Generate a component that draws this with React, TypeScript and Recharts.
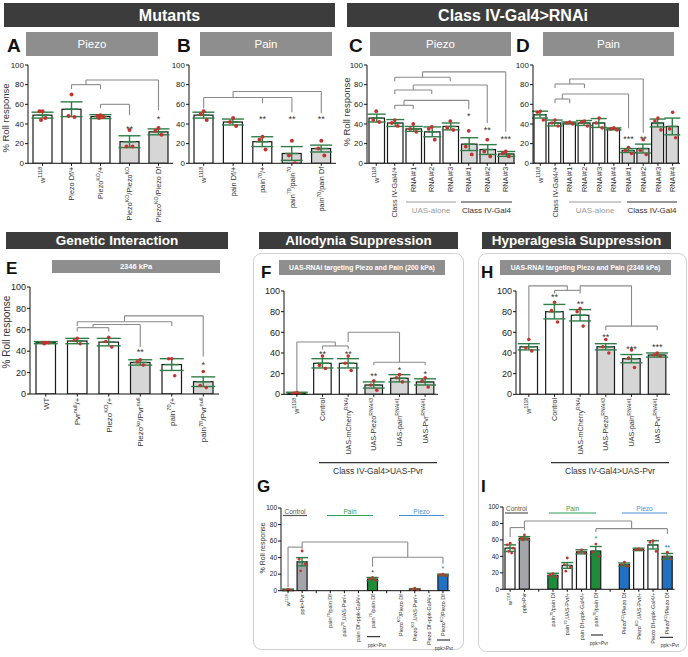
import React from 'react'
import { ComposedChart, Bar, Line, XAxis, YAxis, ErrorBar, ReferenceLine, ReferenceDot } from 'recharts'

const FONT = '"Liberation Sans", Arial, Helvetica, sans-serif'
const ERR = '#2f7d47'
const DOT = '#c23430'
const W = '#ffffff'
const L = '#d6d6d6'
const GRAYBAR = '#a4a4ab'
const GREEN = '#1f8b3b'
const BLUE = '#2170c2'
const BRK = '#8a8a8a'

// ---- A: Mutants / Piezo
const A_LABELS = ['w^{1118}', 'Piezo Df/+', 'Piezo^{KO}/+', 'Piezo^{KO}/Piezo^{KO}', 'Piezo^{KO}/Piezo Df']
const A_MEAN = [49, 55, 47.5, 22, 32]
const A_SEM = [3, 7.5, 2, 6, 3]
const A_POINTS = [[53, 53, 46, 44], [70, 48, 47], [49, 48, 47, 46], [34, 17, 17], [36, 33, 29]]

// ---- B: Mutants / Pain
const B_LABELS = ['w^{1118}', 'pain Df/+', 'pain^{70}/+', 'pain^{70}/pain^{70}', 'pain^{70}/pain Df']
const B_MEAN = [49, 42, 22, 10, 15]
const B_SEM = [3, 3, 5, 7, 3.5]
const B_POINTS = [[53, 50, 44], [46, 42, 38], [27, 24, 14], [23, 8, 0], [23, 15, 8]]

// ---- C: RNAi / Piezo
const C_LABELS = ['w^{1118}', 'Class IV-Gal4/+', 'RNAi#1', 'RNAi#2', 'RNAi#3', 'RNAi#1', 'RNAi#2', 'RNAi#3']
const C_MEAN = [46, 41, 35, 32, 37.5, 19.5, 14, 9.5]
const C_SEM = [4, 3.5, 2.5, 5, 3.5, 6.5, 5, 2.5]
const C_POINTS = [[53, 44, 42], [44, 41, 38], [40, 35, 32], [37, 35, 24], [43, 36, 34], [33, 17, 9], [24, 12, 7], [12, 10, 7]]

// ---- D: RNAi / Pain
const D_LABELS = ['w^{1118}', 'Class IV-Gal4/+', 'RNAi#1', 'RNAi#2', 'RNAi#3', 'RNAi#4', 'RNAi#1', 'RNAi#2', 'RNAi#3', 'RNAi#4']
const D_MEAN = [49.5, 41, 41, 41, 41, 35, 13, 15, 41, 37.5]
const D_SEM = [3.5, 3, 1, 2.5, 4.5, 1, 2, 4.5, 4, 8.5]
const D_POINTS = [[53, 52, 44], [44, 41, 38], [42, 41, 40], [43, 42, 38], [46, 41, 36], [36, 35, 34], [16, 13, 10], [24, 13, 9], [46, 43, 34], [52, 35, 26]]

// ---- E: Genetic interaction
const E_LABELS = ['WT', 'Pvr^{null}/+', 'Piezo^{KO}/+', 'Piezo^{ko}/Pvr^{null}', 'pain^{70}/+', 'pain^{70}/Pvr^{null}']
const E_MEAN = [48, 49.5, 48.5, 29.5, 27.5, 11.5]
const E_SEM = [1, 2.5, 3.5, 2.5, 5.5, 4.5]
const E_POINTS = [[48, 48, 48, 47], [52, 50, 47], [53, 49, 44], [32, 30, 27], [33, 33, 17], [21, 8, 6]]

// ---- F / H: RNAi suppression
const FH_LABELS = ['w^{1118}', 'Control', 'UAS-mCherry^{RNAi}', 'UAS-Piezo^{RNAi#3}', 'UAS-pain^{RNAi#1}', 'UAS-Pvr^{RNAi#1}']
const F_MEAN = [1, 30, 30, 9, 15.5, 12]
const F_SEM = [1, 4.5, 4.5, 3, 3.5, 3]
const F_POINTS = [[2, 1, 0], [37, 28, 25], [37, 30, 23], [13, 9, 4], [19, 16, 12], [16, 13, 7]]
const H_MEAN = [46, 80, 76.5, 46, 34.5, 38]
const H_SEM = [3, 7, 5.5, 3, 4, 2]
const H_POINTS = [[53, 45, 42], [89, 81, 70], [83, 80, 66], [53, 46, 40], [43, 35, 26], [40, 38, 37]]

// ---- G / I: Pvr overexpression
const GI_LABELS = ['w^{1118}', 'ppk>Pvr', '', 'pain^{70}/pain Df', 'pain^{70},UAS-Pvr/+', 'pain Df+ppk-Gal4/+', 'pain^{70}/pain Df', ' ', 'Piezo^{KO}/Piezo Df', 'Piezo^{KO},UAS-Pvr/+', 'Piezo Df+ppk-Gal4/+', 'Piezo^{KO}/Piezo Df']
const G_MEAN = [1, 35, null, 0, 0, 0, 14, null, 0, 1.5, 0, 19]
const G_SEM = [1, 5, null, 0, 0, 0, 2, null, 0, 1, 0, 1]
const G_POINTS = [[2, 0.5, 0], [48, 38, 32, 24], [], [], [], [], [16, 14, 13], [], [], [3, 1, 1], [], [20, 19, 18]]
const I_MEAN = [50, 62, null, 17, 29, 45.5, 46.5, null, 30, 48.5, 54, 40]
const I_SEM = [4, 2, null, 2.5, 3.5, 2.5, 5.5, null, 2, 1.5, 5, 3.5]
const I_POINTS = [[56, 54, 50, 46, 44], [66, 62, 61, 60], [], [19, 17, 15], [38, 30, 27, 22], [48, 45, 44], [55, 45, 40], [], [33, 30, 28], [49, 48, 48], [59, 57, 46], [45, 39, 37]]

const Y_TICKS = [0, 20, 40, 60, 80, 100]

type Bracket = { x: [number, number]; y: number; legs: [number, number][] }
type Star = { i: number; y: number; s: string; c?: string }

const A_BRACKETS: Bracket[] = [
  { x: [1, 2], y: 80, legs: [[1, 75.5], [2, 75.5], [1.5, 84.7]] },
  { x: [1.5, 4], y: 84.7, legs: [[4, 54]] },
  { x: [2, 3], y: 60, legs: [[2, 56], [3, 49]] },
]
const B_BRACKETS: Bracket[] = [
  { x: [0, 3], y: 67, legs: [[0, 56], [2, 61], [3, 52]] },
  { x: [1, 4], y: 73, legs: [[1, 67], [4, 51]] },
]
const C_BRACKETS: Bracket[] = [
  { x: [1, 2], y: 59, legs: [[1, 55], [2, 55], [1.5, 64]] },
  { x: [1.5, 5], y: 64, legs: [[5, 55]] },
  { x: [1, 3], y: 74.6, legs: [[1, 70.5], [3, 70.5], [2, 79.7]] },
  { x: [2, 6], y: 79.7, legs: [[6, 41]] },
  { x: [1, 4], y: 87.5, legs: [[1, 83.5], [4, 83.5], [2.5, 93]] },
  { x: [2.5, 7], y: 93, legs: [[7, 32]] },
]
const D_BRACKETS: Bracket[] = [
  { x: [1, 2], y: 65.4, legs: [[1, 61], [2, 61], [1.5, 70.5]] },
  { x: [1.5, 6], y: 70.5, legs: [[6, 35.6]] },
  { x: [1, 3], y: 80.7, legs: [[1, 76.5], [3, 76.5], [2, 85.8]] },
  { x: [2, 7], y: 85.8, legs: [[7, 31]] },
]
const E_BRACKETS: Bracket[] = [
  { x: [1, 2], y: 62, legs: [[1, 58.5], [2, 58.5], [1.5, 65]] },
  { x: [1.5, 3], y: 65, legs: [[3, 44]] },
  { x: [1, 4], y: 67.5, legs: [[1, 63.5], [4, 63.5], [2.5, 73]] },
  { x: [2.5, 5], y: 73, legs: [[5, 35]] },
]
const F_BRACKETS: Bracket[] = [
  { x: [1, 2], y: 46.8, legs: [[1, 43.5], [2, 43.5], [1.5, 50.6]] },
  { x: [0, 1.5], y: 50.6, legs: [[0, 4]] },
  { x: [3, 5], y: 31, legs: [[3, 28], [5, 28], [4, 60]] },
  { x: [2, 4], y: 60, legs: [[2, 50.6]] },
]
const H_BRACKETS: Bracket[] = [
  { x: [1, 2], y: 100.6, legs: [[1, 97.5], [2, 97.5], [1.5, 105]] },
  { x: [0, 1.5], y: 105, legs: [[0, 53]] },
  { x: [3, 5], y: 66, legs: [[3, 62], [5, 62], [4, 105]] },
  { x: [2, 4], y: 105, legs: [[2, 100.6]] },
]
const G_BRACKETS: Bracket[] = [
  { x: [0, 1], y: 52.7, legs: [[0, 4.5], [1, 50.5]] },
  { x: [1, 8.5], y: 58.8, legs: [[1, 52.7], [8.5, 40.5]] },
  { x: [6, 11], y: 40.5, legs: [[6, 29], [11, 32.5]] },
]
const I_BRACKETS: Bracket[] = [
  { x: [0, 1], y: 75, legs: [[0, 63.5], [1, 71.7]] },
  { x: [1, 8.5], y: 83, legs: [[1, 75], [8.5, 73.7]] },
  { x: [6, 11], y: 73.7, legs: [[6, 69.6], [11, 67.6]] },
]

const A_STARS: Star[] = [{ i: 3, y: 37, s: '**' }, { i: 4, y: 47, s: '*' }]
const B_STARS: Star[] = [{ i: 2, y: 47, s: '**' }, { i: 3, y: 47, s: '**' }, { i: 4, y: 47, s: '**' }]
const C_STARS: Star[] = [{ i: 5, y: 50, s: '*' }, { i: 6, y: 36, s: '**' }, { i: 7, y: 27, s: '***' }]
const D_STARS: Star[] = [{ i: 6, y: 27, s: '***' }, { i: 7, y: 27, s: '**' }]
const E_STARS: Star[] = [{ i: 3, y: 41, s: '**' }, { i: 5, y: 29, s: '*' }]
const F_STARS: Star[] = [{ i: 1, y: 41, s: '**' }, { i: 2, y: 41, s: '**' }, { i: 3, y: 20, s: '**' }, { i: 4, y: 25, s: '*' }, { i: 5, y: 22, s: '*' }]
const H_STARS: Star[] = [{ i: 1, y: 96, s: '**' }, { i: 2, y: 89, s: '**' }, { i: 3, y: 57, s: '**' }, { i: 4, y: 46, s: '***' }, { i: 5, y: 48, s: '***' }]
const G_STARS: Star[] = [{ i: 6, y: 24, s: '*' }, { i: 11, y: 28, s: '*', c: BLUE }]
const I_STARS: Star[] = [{ i: 6, y: 63, s: '*', c: GREEN }, { i: 11, y: 53, s: '**', c: BLUE }]

const GI_FILLS = [W, GRAYBAR, W, GREEN, W, W, GREEN, W, BLUE, W, W, BLUE]

function buildRows(labels: string[], mean: (number | null)[], sem: (number | null)[], pts: number[][]) {
  return labels.map((name, idx) => {
    const row: any = { name, idx, mean: mean[idx], err: sem[idx] }
    pts[idx].forEach((v, k) => { row['d' + k] = v })
    return row
  })
}

function richText(label: string, fs: number) {
  const parts = label.split(/\^\{([^}]*)\}/)
  const out: any[] = []
  let up = false
  parts.forEach((p, i) => {
    if (!p) return
    if (i % 2 === 1) {
      out.push(<tspan key={i} dy={-fs * 0.42} fontSize={fs * 0.72}>{p}</tspan>)
      up = true
    } else {
      out.push(<tspan key={i} dy={up ? fs * 0.42 : 0}>{p}</tspan>)
      up = false
    }
  })
  return out
}

const makeXTick = (fs: number) => (props: any) => {
  const { x, y, payload } = props
  const label = String(payload?.value ?? '')
  if (!label.trim()) return <g />
  return (
    <g transform={`translate(${x + fs * 0.36},${y}) rotate(-90)`}>
      <text textAnchor="end" fontSize={fs} fill="#333" fontFamily={FONT}>{richText(label, fs)}</text>
    </g>
  )
}

const makeBarShape = (fills: string[], cap: number) => (props: any) => {
  const { x, y, width, height, payload } = props
  if (!height || height <= 0.05) return <g />
  const cx = x + width / 2
  const fill = fills[payload?.idx ?? 0]
  return (
    <g>
      <rect x={x} y={y} width={width} height={height} fill={fill} stroke="#1a1a1a" strokeWidth={1.2} />
      <line x1={cx - cap / 2 - 1} x2={cx + cap / 2 + 1} y1={y} y2={y} stroke={ERR} strokeWidth={1.5} />
    </g>
  )
}

const JITTER = [0, -3, 3, -1.5, 1.5]
const makeDot = (off: number, r: number) => (props: any) => {
  const { cx, cy, value, index } = props
  if (value == null || cx == null || cy == null) return <g key={'n' + index} />
  return <circle key={'c' + index} cx={cx + off} cy={cy} r={r} fill={DOT} />
}

type Spec = {
  rows: any[]; fills: string[]; l: number; t: number; w: number; h: number; xh: number
  bar: number; cap: number; xfs: number; yfs: number; dotR: number; starFs: number
  brackets: Bracket[]; stars: Star[]
}

const YW = 30
const MT = 22
const MR = 4

function Panel({ s }: { s: Spec }) {
  const n = s.rows.length
  const maxPts = 5
  return (
    <div style={{ position: 'absolute', left: s.l - YW, top: s.t - MT }}>
      <ComposedChart width={YW + s.w + MR} height={MT + s.h + s.xh} data={s.rows}
        margin={{ top: MT, right: MR, bottom: 0, left: 0 }}>
        <XAxis dataKey="name" interval={0} height={s.xh} tick={makeXTick(s.xfs)} tickSize={2.5} tickMargin={1}
          axisLine={{ stroke: '#111' }} tickLine={{ stroke: '#111' }} />
        <XAxis xAxisId="num" type="number" dataKey="idx" domain={[-0.5, n - 0.5]} allowDataOverflow hide />
        <YAxis domain={[0, 100]} ticks={Y_TICKS} interval={0} width={YW} allowDataOverflow tickSize={3} tickMargin={1}
          tick={{ fontSize: s.yfs, fill: '#222', fontFamily: FONT }} axisLine={{ stroke: '#111' }} tickLine={{ stroke: '#111' }} />
        <Bar dataKey="mean" barSize={s.bar} isAnimationActive={false} shape={makeBarShape(s.fills, s.cap)}>
          <ErrorBar dataKey="err" width={s.cap} stroke={ERR} strokeWidth={1.4} />
        </Bar>
        {Array.from({ length: maxPts }, (_, k) => (
          <Line key={'d' + k} dataKey={'d' + k} stroke="none" isAnimationActive={false} activeDot={false}
            dot={makeDot(JITTER[k], s.dotR)} legendType="none" />
        ))}
        {s.brackets.flatMap((b, bi) => [
          <ReferenceLine key={`h${bi}`} xAxisId="num" ifOverflow="visible" stroke={BRK} strokeWidth={1.1}
            segment={[{ x: b.x[0], y: b.y }, { x: b.x[1], y: b.y }]} />,
          ...b.legs.map((lg, li) => (
            <ReferenceLine key={`v${bi}-${li}`} xAxisId="num" ifOverflow="visible" stroke={BRK} strokeWidth={1.1}
              segment={[{ x: lg[0], y: b.y }, { x: lg[0], y: lg[1] }]} />
          )),
        ])}
        {s.stars.map((st, si) => (
          <ReferenceDot key={`s${si}`} xAxisId="num" x={st.i} y={st.y} r={0} ifOverflow="visible"
            shape={(p: any) => (
              <text x={p.cx} y={p.cy + s.starFs * 0.55} textAnchor="middle" fontSize={s.starFs}
                fill={st.c ?? '#333'} fontFamily={FONT}>{st.s}</text>
            )} />
        ))}
      </ComposedChart>
    </div>
  )
}

const SPECS: Spec[] = [
  { rows: buildRows(A_LABELS, A_MEAN, A_SEM, A_POINTS), fills: [W, W, W, L, L], l: 27.5, t: 65, w: 145, h: 98.3, xh: 70,
    bar: 19, cap: 11, xfs: 7.3, yfs: 8, dotR: 2, starFs: 9, brackets: A_BRACKETS, stars: A_STARS },
  { rows: buildRows(B_LABELS, B_MEAN, B_SEM, B_POINTS), fills: [W, W, W, L, L], l: 189, t: 65, w: 147, h: 98.3, xh: 70,
    bar: 19, cap: 11, xfs: 7.3, yfs: 8, dotR: 2, starFs: 9, brackets: B_BRACKETS, stars: B_STARS },
  { rows: buildRows(C_LABELS, C_MEAN, C_SEM, C_POINTS), fills: [W, W, W, W, W, L, L, L], l: 367, t: 65, w: 148, h: 98.3, xh: 70,
    bar: 15.5, cap: 9, xfs: 7.3, yfs: 8, dotR: 1.9, starFs: 9, brackets: C_BRACKETS, stars: C_STARS },
  { rows: buildRows(D_LABELS, D_MEAN, D_SEM, D_POINTS), fills: [W, W, W, W, W, W, L, L, L, L], l: 533, t: 65, w: 147, h: 98.3, xh: 70,
    bar: 12, cap: 8, xfs: 7.3, yfs: 8, dotR: 1.8, starFs: 9, brackets: D_BRACKETS, stars: D_STARS },
  { rows: buildRows(E_LABELS, E_MEAN, E_SEM, E_POINTS), fills: [W, W, W, L, W, L], l: 30, t: 287, w: 189, h: 107, xh: 60,
    bar: 19.5, cap: 12, xfs: 8, yfs: 9, dotR: 1.8, starFs: 9, brackets: E_BRACKETS, stars: E_STARS },
  { rows: buildRows(FH_LABELS, F_MEAN, F_SEM, F_POINTS), fills: [W, W, W, L, L, L], l: 284, t: 290.7, w: 154, h: 103.3, xh: 64,
    bar: 17.5, cap: 11, xfs: 7.2, yfs: 9, dotR: 1.8, starFs: 9, brackets: F_BRACKETS, stars: F_STARS },
  { rows: buildRows(FH_LABELS, H_MEAN, H_SEM, H_POINTS), fills: [W, W, W, L, L, L], l: 515.7, t: 290.7, w: 154, h: 103.3, xh: 64,
    bar: 17.5, cap: 11, xfs: 7.2, yfs: 9, dotR: 1.8, starFs: 9, brackets: H_BRACKETS, stars: H_STARS },
  { rows: buildRows(GI_LABELS, G_MEAN, G_SEM, G_POINTS), fills: GI_FILLS, l: 280.5, t: 508, w: 169, h: 82.7, xh: 58,
    bar: 10, cap: 6, xfs: 5.5, yfs: 6.5, dotR: 1.4, starFs: 7, brackets: G_BRACKETS, stars: G_STARS },
  { rows: buildRows(GI_LABELS, I_MEAN, I_SEM, I_POINTS), fills: GI_FILLS, l: 503, t: 506.7, w: 171.5, h: 82.3, xh: 58,
    bar: 10, cap: 6, xfs: 5.5, yfs: 6.5, dotR: 1.4, starFs: 7, brackets: I_BRACKETS, stars: I_STARS },
]

const DARK = [
  { x: 4, y: 3, w: 331, h: 24, t: 'Mutants', fs: 16 },
  { x: 347, y: 3, w: 332, h: 24, t: 'Class IV-Gal4>RNAi', fs: 16 },
  { x: 6, y: 232, w: 222, h: 17, t: 'Genetic Interaction', fs: 13.5 },
  { x: 259, y: 232, w: 199, h: 17, t: 'Allodynia Suppression', fs: 13.5 },
  { x: 482, y: 232, w: 189, h: 17, t: 'Hyperalgesia Suppression', fs: 13.5 },
]
const GREY = [
  { x: 26, y: 32, w: 132, h: 24, t: 'Piezo', fs: 11.5, b: false },
  { x: 200, y: 32, w: 132, h: 24, t: 'Pain', fs: 11.5, b: false },
  { x: 370, y: 32, w: 141, h: 24, t: 'Piezo', fs: 11.5, b: false },
  { x: 543, y: 32, w: 131, h: 24, t: 'Pain', fs: 11.5, b: false },
  { x: 52, y: 260, w: 168, h: 13, t: '2346 kPa', fs: 7.5, b: true },
  { x: 279, y: 260, w: 166, h: 15, t: 'UAS-RNAi targeting Piezo and Pain (200 kPa)', fs: 6.8, b: true },
  { x: 500, y: 260, w: 171, h: 15, t: 'UAS-RNAi targeting Piezo and Pain (2346 kPa)', fs: 6.8, b: true },
]
const LETTERS = [
  { t: 'A', x: 7, y: 52, fs: 19 }, { t: 'B', x: 177, y: 52, fs: 19 }, { t: 'C', x: 349, y: 52, fs: 19 },
  { t: 'D', x: 516, y: 52, fs: 19 }, { t: 'E', x: 6, y: 274, fs: 17 }, { t: 'F', x: 261, y: 278, fs: 17 },
  { t: 'H', x: 481, y: 278, fs: 17 }, { t: 'G', x: 257, y: 492, fs: 17 }, { t: 'I', x: 481, y: 492, fs: 17 },
]
const YLABELS = [
  { x: 6, y: 118, fs: 9.5 }, { x: 347, y: 112, fs: 9.5 }, { x: 6, y: 332, fs: 10 }, { x: 262, y: 548, fs: 7 },
]
const GROUPS = [
  { x1: 406, x2: 456, y: 202, t: 'UAS-alone', c: '#9a9a9a', fs: 8 },
  { x1: 461, x2: 512, y: 202, t: 'Class IV-Gal4', c: '#333', fs: 8 },
  { x1: 569, x2: 621, y: 202, t: 'UAS-alone', c: '#9a9a9a', fs: 8 },
  { x1: 627, x2: 677, y: 202, t: 'Class IV-Gal4', c: '#333', fs: 8 },
  { x1: 319, x2: 437, y: 462.7, t: 'Class IV-Gal4>UAS-Pvr', c: '#333', fs: 8.5 },
  { x1: 551, x2: 669, y: 462.7, t: 'Class IV-Gal4>UAS-Pvr', c: '#333', fs: 8.5 },
]
const TOPGROUPS = [
  { x1: 283, x2: 307, y: 515.5, t: 'Control', c: '#555' },
  { x1: 327, x2: 373, y: 515.5, t: 'Pain', c: '#2e9b57' },
  { x1: 399, x2: 444, y: 515.5, t: 'Piezo', c: '#4a8fd6' },
  { x1: 505, x2: 528, y: 513, t: 'Control', c: '#555' },
  { x1: 549, x2: 596, y: 513, t: 'Pain', c: '#2e9b57' },
  { x1: 622, x2: 667, y: 513, t: 'Piezo', c: '#4a8fd6' },
]
const SUBS = [
  { x1: 367, x2: 380, y: 636.7, tx: 377, ty: 647 },
  { x1: 437, x2: 450, y: 640, tx: 444, ty: 650 },
  { x1: 591, x2: 603, y: 635, tx: 599, ty: 644.5 },
  { x1: 660, x2: 673, y: 637.3, tx: 670, ty: 647 },
]

function Overlay() {
  return (
    <svg width={688} height={657} style={{ position: 'absolute', left: 0, top: 0, pointerEvents: 'none' }} fontFamily={FONT}>
      <rect x={253.5} y={253.5} width={210} height={396} rx={8} fill="none" stroke="#cfcfcf" />
      <rect x={478.5} y={253.5} width={208} height={398} rx={8} fill="none" stroke="#cfcfcf" />
      {DARK.map((d, i) => (
        <g key={'dk' + i}>
          <rect x={d.x} y={d.y} width={d.w} height={d.h} fill="#3c3c3c" />
          <text x={d.x + d.w / 2} y={d.y + d.h / 2 + d.fs * 0.36} textAnchor="middle" fill="#fff" fontWeight="bold" fontSize={d.fs}>{d.t}</text>
        </g>
      ))}
      {GREY.map((d, i) => (
        <g key={'gr' + i}>
          <rect x={d.x} y={d.y} width={d.w} height={d.h} fill="#8e8e8e" />
          <text x={d.x + d.w / 2} y={d.y + d.h / 2 + d.fs * 0.36} textAnchor="middle" fill="#fff"
            fontWeight={d.b ? 'bold' : 'normal'} fontSize={d.fs}>{d.t}</text>
        </g>
      ))}
      {LETTERS.map((d, i) => (
        <text key={'lt' + i} x={d.x} y={d.y} fontSize={d.fs} fontWeight="bold" fill="#111">{d.t}</text>
      ))}
      {YLABELS.map((d, i) => (
        <text key={'yl' + i} transform={`translate(${d.x + d.fs * 0.36},${d.y}) rotate(-90)`} textAnchor="middle"
          fontSize={d.fs} fill="#333">% Roll response</text>
      ))}
      {GROUPS.map((g, i) => (
        <g key={'gp' + i}>
          <line x1={g.x1} x2={g.x2} y1={g.y} y2={g.y} stroke={g.c} strokeWidth={1.2} />
          <text x={(g.x1 + g.x2) / 2} y={g.y + 3 + g.fs} textAnchor="middle" fontSize={g.fs} fill={g.c}>{g.t}</text>
        </g>
      ))}
      {TOPGROUPS.map((g, i) => (
        <g key={'tg' + i}>
          <line x1={g.x1} x2={g.x2} y1={g.y} y2={g.y} stroke={g.c} strokeWidth={1.2} />
          <text x={(g.x1 + g.x2) / 2} y={g.y - 2} textAnchor="middle" fontSize={6.5} fill={g.c}>{g.t}</text>
        </g>
      ))}
      {SUBS.map((g, i) => (
        <g key={'sb' + i}>
          <line x1={g.x1} x2={g.x2} y1={g.y} y2={g.y} stroke="#111" strokeWidth={1} />
          <text x={g.tx} y={g.ty} textAnchor="middle" fontSize={5} fill="#333">ppk&gt;Pvr</text>
        </g>
      ))}
    </svg>
  )
}

export default function App() {
  return (
    <div style={{ position: 'absolute', left: 0, top: 0, width: 688, height: 657, background: '#fff', fontFamily: FONT, overflow: 'hidden' }}>
      {SPECS.map((s, i) => <Panel key={i} s={s} />)}
      <Overlay />
    </div>
  )
}
